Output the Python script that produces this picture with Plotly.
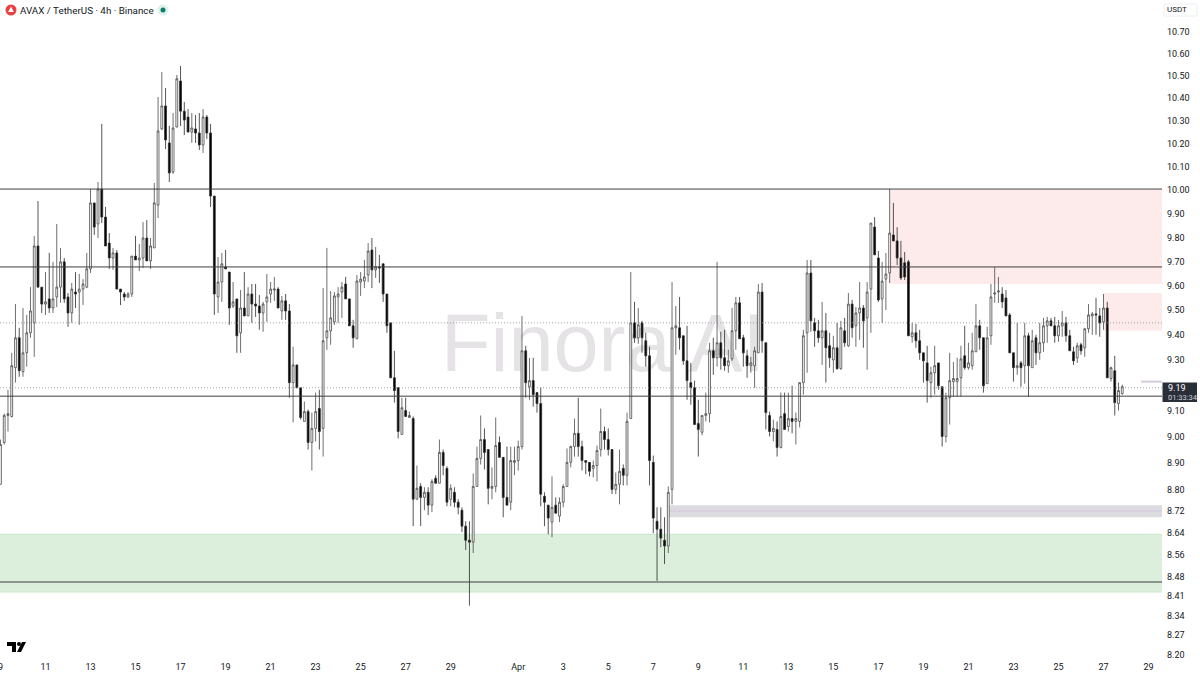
"""
AVAX / TetherUS 4h candlestick chart with supply and demand zones.
"""

from __future__ import annotations

import pandas as pd
import plotly.graph_objects as go

# 4h bars, first one at the "9" tick
bar_start = "2025-03-09 00:00"

opens = [
    8.82, 8.979, 9.083, 9.079, 9.27, 9.389, 9.254, 9.329, 9.409, 9.449,
    9.764, 9.594, 9.525, 9.546, 9.509, 9.554, 9.594, 9.698, 9.554, 9.489,
    9.574, 9.574, 9.586, 9.594, 9.669, 9.945, 9.856, 10.004, 9.885, 9.776,
    9.714, 9.735, 9.586, 9.566, 9.554, 9.566, 9.722, 9.706, 9.714, 9.797,
    9.702, 9.756, 9.936, 10.264, 10.365, 10.203, 10.077, 10.272, 10.476, 10.342,
    10.316, 10.25, 10.264, 10.246, 10.194, 10.316, 10.246, 9.974, 9.554, 9.615,
    9.677, 9.656, 9.517, 9.546, 9.409, 9.509, 9.477, 9.566, 9.525, 9.517,
    9.489, 9.534, 9.566, 9.582, 9.586, 9.497, 9.538, 9.497, 9.211, 9.281,
    9.191, 9.06, 9.098, 8.979, 9.033, 9.11, 9.033, 9.389, 9.417, 9.453,
    9.554, 9.574, 9.607, 9.546, 9.437, 9.385, 9.615, 9.619, 9.644, 9.747,
    9.665, 9.677, 9.69, 9.566, 9.449, 9.23, 9.191, 9.01, 9.102, 9.075,
    9.071, 8.764, 8.812, 8.771, 8.79, 8.742, 8.843, 8.824, 8.941, 8.88,
    8.764, 8.79, 8.753, 8.723, 8.664, 8.612, 8.605, 8.812, 8.918, 8.99,
    8.952, 8.805, 8.812, 8.979, 8.922, 8.771, 8.753, 8.903, 8.91, 8.963,
    9.337, 9.195, 9.219, 9.172, 9.129, 8.775, 8.742, 8.679, 8.742, 8.701,
    8.753, 8.812, 8.903, 8.963, 9.014, 8.963, 8.91, 8.903, 8.88, 8.891,
    8.952, 9.021, 8.99, 8.952, 8.801, 8.82, 8.88, 8.854, 9.071, 9.449,
    9.389, 9.449, 9.377, 9.317, 8.903, 8.682, 8.653, 8.612, 8.591, 8.801,
    9.429, 9.429, 9.397, 9.297, 9.211, 9.191, 9.052, 9.018, 9.083, 9.09,
    9.337, 9.309, 9.369, 9.309, 9.278, 9.305, 9.417, 9.53, 9.389, 9.317,
    9.278, 9.278, 9.329, 9.574, 9.369, 9.083, 9.021, 9.029, 8.96, 9.09,
    9.04, 9.071, 9.06, 9.06, 9.211, 9.409, 9.652, 9.449, 9.417, 9.389,
    9.417, 9.357, 9.301, 9.349, 9.266, 9.417, 9.357, 9.525, 9.437, 9.489,
    9.509, 9.469, 9.586, 9.843, 9.714, 9.546, 9.627, 9.652, 9.81, 9.785,
    9.714, 9.694, 9.698, 9.393, 9.409, 9.377, 9.329, 9.289, 9.211, 9.25,
    9.289, 9.195, 9.002, 9.152, 9.215, 9.215, 9.23, 9.317, 9.27, 9.278,
    9.333, 9.437, 9.389, 9.207, 9.397, 9.566, 9.574, 9.566, 9.55, 9.481,
    9.329, 9.27, 9.289, 9.278, 9.397, 9.27, 9.389, 9.329, 9.369, 9.437,
    9.457, 9.437, 9.397, 9.437, 9.449, 9.397, 9.333, 9.309, 9.361, 9.349,
    9.425, 9.477, 9.485, 9.477, 9.453, 9.509, 9.227, 9.258, 9.129, 9.168,
]
highs = [
    8.99, 9.09, 9.183, 9.329, 9.525, 9.429, 9.509, 9.481, 9.594, 9.806,
    9.953, 9.594, 9.656, 9.735, 9.698, 9.856, 9.756, 9.714, 9.57, 9.611,
    9.656, 9.648, 9.627, 9.735, 10.004, 9.945, 10.034, 10.286, 9.928, 9.818,
    9.756, 9.747, 9.586, 9.574, 9.574, 9.722, 9.806, 9.772, 9.864, 9.873,
    9.797, 10.03, 10.405, 10.516, 10.445, 10.277, 10.334, 10.503, 10.543, 10.383,
    10.351, 10.334, 10.325, 10.334, 10.351, 10.325, 10.286, 9.974, 9.718, 9.735,
    9.747, 9.656, 9.615, 9.546, 9.582, 9.656, 9.594, 9.607, 9.607, 9.562,
    9.534, 9.648, 9.615, 9.636, 9.594, 9.558, 9.566, 9.525, 9.353, 9.281,
    9.191, 9.137, 9.106, 9.094, 9.172, 9.183, 9.59, 9.756, 9.578, 9.574,
    9.594, 9.615, 9.636, 9.546, 9.461, 9.644, 9.656, 9.706, 9.776, 9.797,
    9.76, 9.727, 9.69, 9.566, 9.449, 9.337, 9.191, 9.152, 9.152, 9.098,
    9.079, 8.891, 8.824, 8.809, 8.809, 8.839, 8.854, 8.99, 8.952, 8.888,
    8.82, 8.809, 8.764, 8.734, 8.682, 8.682, 8.861, 8.963, 9.083, 9.033,
    8.952, 8.884, 9.075, 9.002, 8.922, 8.963, 8.963, 8.963, 8.986, 9.477,
    9.357, 9.309, 9.309, 9.172, 9.191, 8.79, 8.742, 8.85, 8.771, 8.771,
    8.82, 8.956, 8.967, 9.071, 9.152, 8.986, 8.91, 8.903, 8.91, 8.967,
    9.11, 9.04, 9.033, 8.952, 8.865, 8.952, 8.895, 9.094, 9.656, 9.534,
    9.509, 9.457, 9.409, 9.353, 8.929, 8.734, 8.734, 8.697, 8.812, 9.615,
    9.517, 9.554, 9.397, 9.437, 9.289, 9.219, 9.144, 9.083, 9.172, 9.369,
    9.389, 9.698, 9.413, 9.421, 9.341, 9.509, 9.554, 9.554, 9.401, 9.341,
    9.313, 9.353, 9.607, 9.611, 9.369, 9.098, 9.067, 9.06, 9.172, 9.172,
    9.172, 9.199, 9.094, 9.211, 9.421, 9.706, 9.706, 9.469, 9.461, 9.534,
    9.489, 9.409, 9.397, 9.449, 9.457, 9.469, 9.57, 9.542, 9.513, 9.615,
    9.521, 9.615, 9.86, 9.885, 9.743, 9.698, 9.735, 10.004, 9.945, 9.843,
    9.785, 9.739, 9.706, 9.449, 9.445, 9.421, 9.329, 9.357, 9.274, 9.357,
    9.289, 9.195, 9.172, 9.329, 9.293, 9.309, 9.357, 9.437, 9.369, 9.409,
    9.525, 9.461, 9.389, 9.433, 9.607, 9.677, 9.636, 9.594, 9.582, 9.489,
    9.329, 9.449, 9.297, 9.449, 9.409, 9.421, 9.401, 9.449, 9.469, 9.473,
    9.469, 9.473, 9.461, 9.497, 9.473, 9.421, 9.353, 9.369, 9.369, 9.429,
    9.525, 9.493, 9.55, 9.509, 9.566, 9.534, 9.274, 9.317, 9.211, 9.203,
]
lows = [
    8.82, 8.971, 9.021, 9.075, 9.211, 9.234, 9.234, 9.274, 9.389, 9.313,
    9.594, 9.489, 9.481, 9.489, 9.489, 9.513, 9.53, 9.53, 9.433, 9.449,
    9.509, 9.441, 9.521, 9.59, 9.652, 9.81, 9.797, 9.86, 9.764, 9.669,
    9.665, 9.586, 9.521, 9.538, 9.55, 9.554, 9.706, 9.66, 9.673, 9.702,
    9.669, 9.756, 9.881, 10.259, 10.176, 10.034, 10.069, 10.272, 10.277, 10.237,
    10.25, 10.203, 10.203, 10.172, 10.159, 10.22, 9.928, 9.481, 9.489, 9.534,
    9.669, 9.441, 9.509, 9.329, 9.329, 9.477, 9.477, 9.449, 9.473, 9.421,
    9.413, 9.453, 9.53, 9.538, 9.509, 9.461, 9.461, 9.152, 9.056, 9.191,
    9.067, 9.06, 8.952, 8.872, 8.983, 8.952, 8.925, 9.341, 9.361, 9.441,
    9.449, 9.469, 9.546, 9.437, 9.349, 9.385, 9.558, 9.59, 9.615, 9.59,
    9.632, 9.611, 9.534, 9.409, 9.23, 9.133, 8.994, 9.01, 9.079, 9.075,
    8.664, 8.764, 8.664, 8.723, 8.705, 8.716, 8.824, 8.824, 8.854, 8.738,
    8.738, 8.734, 8.708, 8.642, 8.576, 8.375, 8.565, 8.812, 8.895, 8.876,
    8.745, 8.764, 8.79, 8.922, 8.697, 8.742, 8.723, 8.854, 8.872, 8.952,
    9.152, 9.144, 9.117, 9.094, 8.738, 8.664, 8.634, 8.623, 8.712, 8.679,
    8.734, 8.812, 8.884, 8.925, 8.925, 8.872, 8.858, 8.85, 8.846, 8.831,
    8.925, 8.952, 8.929, 8.783, 8.783, 8.745, 8.816, 8.816, 9.071, 9.369,
    9.365, 9.329, 9.274, 8.816, 8.638, 8.464, 8.587, 8.525, 8.565, 8.745,
    9.321, 9.341, 9.281, 9.144, 9.125, 9.048, 8.925, 9.006, 9.06, 9.056,
    9.242, 9.274, 9.262, 9.258, 9.25, 9.297, 9.341, 9.385, 9.274, 9.23,
    9.25, 9.191, 9.329, 9.329, 9.029, 9.002, 8.983, 8.925, 8.956, 9.029,
    9.021, 9.014, 8.971, 9.037, 9.164, 9.25, 9.413, 9.353, 9.369, 9.281,
    9.211, 9.27, 9.25, 9.262, 9.262, 9.353, 9.353, 9.389, 9.353, 9.381,
    9.349, 9.262, 9.409, 9.727, 9.534, 9.449, 9.501, 9.611, 9.785, 9.685,
    9.623, 9.623, 9.397, 9.369, 9.349, 9.301, 9.211, 9.133, 9.152, 9.164,
    9.183, 8.963, 8.979, 9.048, 9.156, 9.156, 9.156, 9.262, 9.262, 9.262,
    9.333, 9.341, 9.172, 9.207, 9.361, 9.53, 9.53, 9.509, 9.477, 9.329,
    9.215, 9.242, 9.195, 9.207, 9.156, 9.27, 9.281, 9.301, 9.333, 9.369,
    9.437, 9.369, 9.373, 9.393, 9.373, 9.337, 9.281, 9.289, 9.321, 9.313,
    9.409, 9.401, 9.401, 9.393, 9.421, 9.23, 9.215, 9.083, 9.102, 9.164,
]
closes = [
    8.971, 9.083, 9.09, 9.278, 9.389, 9.258, 9.329, 9.409, 9.497, 9.764,
    9.594, 9.525, 9.534, 9.509, 9.546, 9.594, 9.698, 9.546, 9.489, 9.586,
    9.566, 9.586, 9.607, 9.669, 9.945, 9.843, 10.004, 9.885, 9.764, 9.714,
    9.735, 9.586, 9.574, 9.554, 9.566, 9.722, 9.706, 9.714, 9.797, 9.702,
    9.764, 9.945, 10.255, 10.365, 10.216, 10.073, 10.268, 10.486, 10.342, 10.303,
    10.25, 10.268, 10.246, 10.194, 10.316, 10.246, 9.974, 9.566, 9.615, 9.69,
    9.669, 9.509, 9.534, 9.397, 9.509, 9.477, 9.566, 9.525, 9.517, 9.489,
    9.525, 9.554, 9.586, 9.586, 9.509, 9.538, 9.497, 9.211, 9.281, 9.191,
    9.075, 9.098, 8.979, 9.033, 9.098, 9.021, 9.377, 9.417, 9.469, 9.558,
    9.566, 9.594, 9.546, 9.437, 9.389, 9.619, 9.627, 9.636, 9.743, 9.665,
    9.677, 9.673, 9.566, 9.437, 9.23, 9.18, 9.021, 9.113, 9.079, 9.083,
    8.764, 8.805, 8.771, 8.79, 8.742, 8.831, 8.824, 8.941, 8.891, 8.753,
    8.805, 8.753, 8.734, 8.664, 8.612, 8.605, 8.812, 8.918, 8.99, 8.941,
    8.805, 8.812, 8.967, 8.922, 8.771, 8.742, 8.91, 8.91, 8.963, 9.337,
    9.211, 9.219, 9.164, 9.129, 8.783, 8.753, 8.694, 8.734, 8.712, 8.753,
    8.812, 8.903, 8.963, 9.014, 8.963, 8.91, 8.903, 8.869, 8.891, 8.948,
    9.021, 8.99, 8.952, 8.801, 8.82, 8.869, 8.854, 9.06, 9.449, 9.389,
    9.441, 9.389, 9.317, 8.91, 8.694, 8.653, 8.62, 8.591, 8.79, 9.429,
    9.437, 9.389, 9.297, 9.219, 9.191, 9.048, 9.029, 9.083, 9.09, 9.337,
    9.309, 9.369, 9.309, 9.278, 9.297, 9.417, 9.53, 9.385, 9.329, 9.278,
    9.289, 9.337, 9.574, 9.377, 9.094, 9.021, 9.033, 8.96, 9.079, 9.029,
    9.071, 9.06, 9.071, 9.211, 9.397, 9.652, 9.457, 9.417, 9.389, 9.417,
    9.349, 9.309, 9.349, 9.266, 9.429, 9.369, 9.525, 9.429, 9.489, 9.509,
    9.457, 9.574, 9.86, 9.727, 9.542, 9.619, 9.648, 9.818, 9.785, 9.714,
    9.632, 9.636, 9.397, 9.409, 9.377, 9.329, 9.297, 9.219, 9.25, 9.278,
    9.199, 9.002, 9.152, 9.219, 9.227, 9.227, 9.305, 9.27, 9.289, 9.337,
    9.437, 9.389, 9.199, 9.389, 9.554, 9.57, 9.578, 9.534, 9.477, 9.329,
    9.27, 9.278, 9.27, 9.397, 9.278, 9.377, 9.329, 9.369, 9.437, 9.457,
    9.437, 9.397, 9.437, 9.449, 9.397, 9.337, 9.297, 9.357, 9.337, 9.425,
    9.481, 9.485, 9.481, 9.449, 9.509, 9.23, 9.27, 9.133, 9.18, 9.195,
]

# right hand price scale
price_ticks = [
    10.7, 10.6, 10.5, 10.4, 10.3, 10.2, 10.1, 10.0, 9.9, 9.8, 9.7, 9.6, 9.5, 9.4,
    9.3, 9.1, 9.0, 8.9, 8.8, 8.72, 8.64, 8.56, 8.48, 8.41, 8.34, 8.27, 8.2,
]

# bottom time scale
date_ticks = pd.date_range("2025-03-09", "2025-03-29", freq="2D").tolist() + pd.date_range(
    "2025-04-01", "2025-04-29", freq="2D"
).tolist()
date_labels = [str(d.day) if d.day != 1 else "Apr" for d in date_ticks]

# horizontal levels
solid_levels = [10.004, 9.677, 9.158, 8.46]
dotted_levels = [9.449, 9.191]

# zones: start date, upper price, lower price
supply_zone_a = ["2025-04-17 12:00", 10.0, 9.607]
supply_zone_b = ["2025-04-27 00:00", 9.57, 9.417]
demand_zone = [8.634, 8.424]
gray_zone = ["2025-04-07 16:00", 8.742, 8.697, 8.72]
pending_level = ["2025-04-28 16:00", 9.215]

x_start = "2025-03-08 23:30"
x_end = "2025-04-29 14:22"
y_low, y_high = 0.91292, 1.0352  # log10 price

W, H = 1200, 675
PLOT_R, PLOT_B = 1162, 660

INK = "#131722"
TEXT_FONT = "Roboto"


def px_x(x):
    return x / PLOT_R


def px_y(y):
    return 1 - y / PLOT_B


def px_path(points):
    return "M" + " L".join(f"{px_x(x):.5f},{px_y(y):.5f}" for x, y in points) + " Z"


dates = pd.date_range(bar_start, periods=len(opens), freq="4h")

fig = go.Figure()

fig.add_trace(
    go.Candlestick(
        x=dates,
        open=opens,
        high=highs,
        low=lows,
        close=closes,
        name="AVAXUSDT",
        whiskerwidth=0,
        increasing={"line": {"color": "#4a4a4a", "width": 0.8}, "fillcolor": "#ffffff"},
        decreasing={"line": {"color": "#2a2a2a", "width": 0.8}, "fillcolor": "#000000"},
        showlegend=False,
    )
)

# zones sit under the candles
fig.add_shape(
    type="rect", xref="paper", yref="y", x0=0, x1=1, y0=demand_zone[1], y1=demand_zone[0],
    fillcolor="#dcefdc", line={"width": 0}, layer="below",
)
for edge in demand_zone:
    fig.add_shape(
        type="line", xref="paper", yref="y", x0=0, x1=1, y0=edge, y1=edge,
        line={"color": "#c9e6c9", "width": 1}, layer="below",
    )
for zone in (supply_zone_a, supply_zone_b):
    fig.add_shape(
        type="rect", xref="x", yref="y", x0=zone[0], x1=x_end, y0=zone[2], y1=zone[1],
        fillcolor="#fdeaea", line={"width": 0}, layer="below",
    )
fig.add_shape(
    type="rect", xref="x", yref="y", x0=gray_zone[0], x1=x_end, y0=gray_zone[2], y1=gray_zone[1],
    fillcolor="#dcdbe0", line={"width": 0}, layer="below",
)
fig.add_shape(
    type="line", xref="x", yref="y", x0=gray_zone[0], x1=x_end, y0=gray_zone[3], y1=gray_zone[3],
    line={"color": "#d3c6dc", "width": 1}, layer="below",
)
fig.add_shape(
    type="line", xref="x", yref="y", x0=pending_level[0], x1=x_end, y0=pending_level[1], y1=pending_level[1],
    line={"color": "#d6cbe0", "width": 2}, layer="below",
)

# watermark, a label on an empty shape so that it stays behind the candles
fig.add_shape(
    type="rect", xref="paper", yref="paper",
    x0=px_x(438), x1=px_x(768), y0=px_y(380), y1=px_y(290),
    line={"width": 0}, fillcolor="rgba(0,0,0,0)", layer="below",
    label={
        "text": "Finora AI",
        "font": {"family": "Liberation Sans", "size": 81, "color": "#e5e3e5"},
        "textposition": "middle center",
    },
)

for level in solid_levels:
    fig.add_shape(
        type="line", xref="paper", yref="y", x0=0, x1=1, y0=level, y1=level,
        line={"color": "#3e3e3e", "width": 1},
    )
for level in dotted_levels:
    fig.add_shape(
        type="line", xref="paper", yref="y", x0=0, x1=1, y0=level, y1=level,
        line={"color": "#8f8f8f", "width": 0.8, "dash": "1px,2px"},
    )

# tradingview mark, bottom left
fig.add_shape(
    type="path", xref="paper", yref="paper", line={"width": 0}, fillcolor="#000000",
    path=px_path([(7, 642), (16, 642), (16, 652), (12, 652), (12, 646), (7, 646)]),
)
fig.add_shape(
    type="circle", xref="paper", yref="paper", line={"width": 0}, fillcolor="#000000",
    x0=px_x(17), x1=px_x(21), y0=px_y(646), y1=px_y(642),
)
fig.add_shape(
    type="path", xref="paper", yref="paper", line={"width": 0}, fillcolor="#000000",
    path=px_path([(22, 642), (26, 642), (21, 652), (17, 652)]),
)

# header: coin logo and status dot
fig.add_shape(
    type="circle", xref="paper", yref="paper", line={"width": 0}, fillcolor="#e84142",
    x0=px_x(5.5), x1=px_x(16.5), y0=px_y(15.5), y1=px_y(4.5),
)
fig.add_shape(
    type="path", xref="paper", yref="paper", line={"width": 0}, fillcolor="#ffffff",
    path=px_path([(11, 6.5), (13.8, 12), (8.2, 12)]),
)
fig.add_shape(
    type="circle", xref="paper", yref="paper", line={"width": 0}, fillcolor="#e0f0ee",
    x0=px_x(157.5), x1=px_x(168.5), y0=px_y(15.5), y1=px_y(4.5),
)
fig.add_shape(
    type="circle", xref="paper", yref="paper", line={"width": 0}, fillcolor="#0a7d6c",
    x0=px_x(160.5), x1=px_x(165.5), y0=px_y(12.5), y1=px_y(7.5),
)

# USDT button and last price tag live on the price scale, outside the plot
fig.add_shape(
    type="rect", xref="paper", yref="paper", x0=px_x(1164), x1=px_x(1197), y0=px_y(16), y1=px_y(4),
    line={"color": "#eeeff2", "width": 1}, fillcolor="#ffffff",
)
fig.add_shape(
    type="rect", xref="paper", yref="paper", x0=px_x(1162.5), x1=px_x(1197), y0=px_y(402), y1=px_y(382.5),
    line={"width": 0}, fillcolor="#2a2e39",
)

annotations = [
    ("AVAX / TetherUS · 4h · Binance", 18, 10.5, 9.8, INK),
    ("USDT", 1165, 10, 8, INK),
    ("9.19", 1166, 388, 9, "#ffffff"),
    ("01:33:34", 1166, 397, 7.5, "#d1d4dc"),
]
for text, ax, ay, size, color in annotations:
    fig.add_annotation(
        text=text, xref="paper", yref="paper", x=px_x(ax), y=px_y(ay),
        xanchor="left", yanchor="middle", showarrow=False,
        font={"family": TEXT_FONT, "size": size, "color": color},
    )

fig.update_layout(
    width=W,
    height=H,
    margin={"l": 0, "r": W - PLOT_R, "t": 0, "b": H - PLOT_B, "autoexpand": False},
    paper_bgcolor="#ffffff",
    plot_bgcolor="#ffffff",
    showlegend=False,
    xaxis={
        "range": [x_start, x_end],
        "rangeslider": {"visible": False},
        "tickmode": "array",
        "tickvals": date_ticks,
        "ticktext": date_labels,
        "showgrid": False,
        "zeroline": False,
        "ticks": "",
        "automargin": False,
        "ticklabeloverflow": "allow",
        "tickfont": {"family": TEXT_FONT, "size": 9, "color": INK},
    },
    yaxis={
        "type": "log",
        "side": "right",
        "range": [y_low, y_high],
        "tickmode": "array",
        "tickvals": price_ticks,
        "ticktext": [f"{p:.2f}" for p in price_ticks],
        "showgrid": False,
        "zeroline": False,
        "ticks": "",
        "automargin": False,
        "ticklabelstandoff": 4,
        "tickfont": {"family": TEXT_FONT, "size": 9, "color": INK},
    },
)

fig.write_html(
    "out.html",
    config={"displayModeBar": False},
    post_script="document.body.style.margin = '0';",
)
